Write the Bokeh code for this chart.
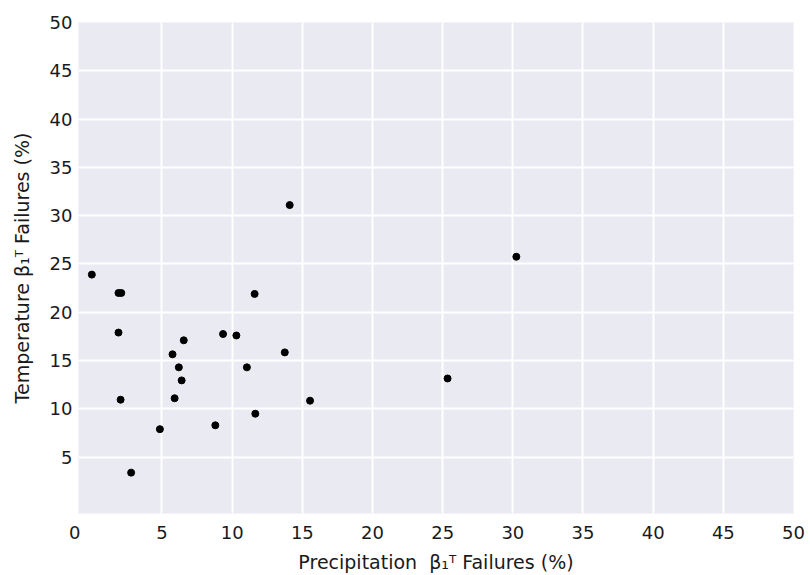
from bokeh.plotting import figure
from bokeh.models import FixedTicker, Range1d
from bokeh.embed import file_html
from bokeh.resources import INLINE

precip_failures = [14.1, 0.0, 1.9, 2.1, 1.9, 6.55, 5.75, 6.2, 6.4, 5.9, 2.05, 4.85, 2.8,
                   8.8, 9.35, 10.3, 11.6, 13.75, 11.05, 11.65, 15.55, 30.25, 25.35]
temp_failures = [31.1, 23.9, 22.0, 22.0, 17.9, 17.1, 15.65, 14.3, 12.95, 11.1, 10.95, 7.9, 3.4,
                 8.3, 17.75, 17.6, 21.9, 15.85, 14.3, 9.5, 10.85, 25.75, 13.15]
tick_values = [5, 10, 15, 20, 25, 30, 35, 40, 45, 50]
x_tick_values = [0] + tick_values

FONT = "DejaVu Sans"
TXT = "#1a1a1a"

p = figure(width=810, height=575, output_backend="svg", toolbar_location=None,
           x_range=Range1d(-0.95, 50), y_range=Range1d(-0.83, 50),
           min_border_left=78, min_border_right=17, min_border_top=22, min_border_bottom=62)
p.background_fill_color = "#EAEAF2"
p.border_fill_color = "white"
p.outline_line_color = None

p.scatter(precip_failures, temp_failures, size=7, color="black", line_color="black")

for ax in (p.xaxis[0], p.yaxis[0]):
    ax.axis_line_color = None
    ax.major_tick_line_color = None
    ax.minor_tick_line_color = None
    ax.major_label_text_font = FONT
    ax.major_label_text_font_size = "18px"
    ax.major_label_text_color = TXT
    ax.axis_label_text_font = FONT
    ax.axis_label_text_font_size = "19px"
    ax.axis_label_text_font_style = "normal"
    ax.axis_label_text_color = TXT

p.xaxis.ticker = FixedTicker(ticks=x_tick_values)
p.yaxis.ticker = FixedTicker(ticks=tick_values)
# the origin label sits left of the frame corner in the reference
p.xaxis.major_label_overrides = {0: "0" + "\u00a0" * 6}

p.xaxis.axis_label = "Precipitation \u00a0β\u2081\u1d40 Failures (%)"
p.yaxis.axis_label = "Temperature β\u2081\u1d40 Failures (%)"
p.xaxis.major_label_standoff = 2
p.xaxis.axis_label_standoff = 5
p.yaxis.major_label_standoff = 0
p.yaxis.axis_label_standoff = 14

p.xgrid.ticker = FixedTicker(ticks=tick_values)
p.ygrid.ticker = FixedTicker(ticks=tick_values)
p.grid.grid_line_color = "white"
p.grid.grid_line_width = 2

open("out.html", "w").write(file_html(p, INLINE))
